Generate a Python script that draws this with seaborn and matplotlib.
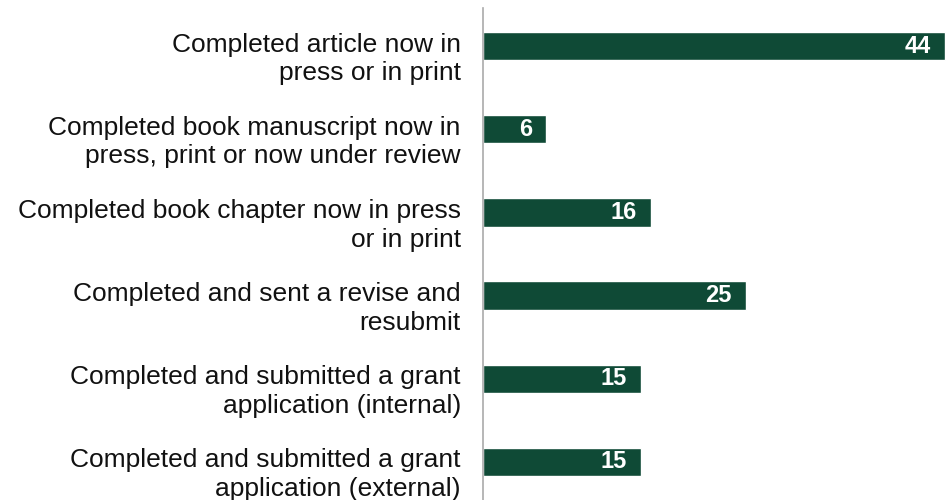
import numpy as np
import pandas as pd
import seaborn as sns
import matplotlib.pyplot as plt
from matplotlib.transforms import ScaledTranslation

# data
categories = [
    "Completed article now in\npress or in print",
    "Completed book manuscript now in\npress, print or now under review",
    "Completed book chapter now in press\nor in print",
    "Completed and sent a revise and\nresubmit",
    "Completed and submitted a grant\napplication (internal)",
    "Completed and submitted a grant\napplication (external)",
]
counts = [44, 6, 16, 25, 15, 15]

df = pd.DataFrame({"category": categories, "count": counts})

sns.set_theme(style="white")
plt.rcParams['font.family'] = ['Liberation Sans', 'DejaVu Sans']

fig = plt.figure(figsize=(9.47, 5.0), dpi=100)
ax = fig.add_axes([483/947, 0, 1 - 483/947, 1 - 8/500])

sns.barplot(data=df, y="category", x="count", orient="h",
            color="#0f4a36", saturation=1, width=0.34, ax=ax)

ax.set_xlim(0, 44.19)
ax.set_ylim(5.457, -0.457)
ax.set_xlabel("")
ax.set_ylabel("")
ax.set_xticks([])

for s in ["top", "right", "bottom"]:
    ax.spines[s].set_visible(False)
ax.spines["left"].set_color("#aaaaaa")
ax.spines["left"].set_linewidth(1.2)

ax.tick_params(axis="y", length=0, pad=16, labelsize=19, labelcolor="#111111")
offset = ScaledTranslation(0, -8/100, fig.dpi_scale_trans)
for lab in ax.get_yticklabels():
    lab.set_transform(lab.get_transform() + offset)
    lab.set_horizontalalignment("right")
    lab.set_linespacing(1.25)

# value labels inside bar ends
for i, v in enumerate(counts):
    ax.annotate(str(v), xy=(v, i), xytext=(-10, 0), textcoords="offset points",
                ha="right", va="center", color="white", fontsize=17,
                fontweight="bold")

fig.savefig("out.png", dpi=100)
